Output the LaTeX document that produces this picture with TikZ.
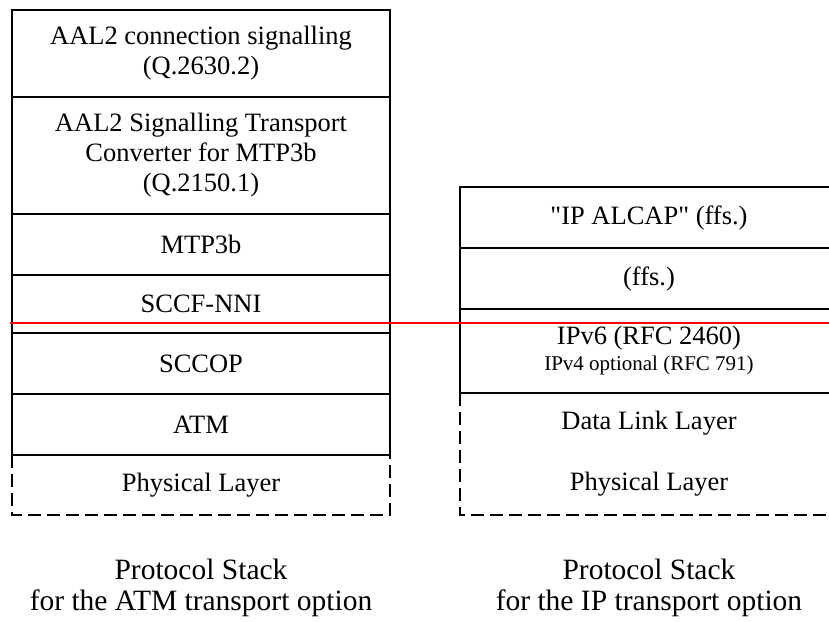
\documentclass[tikz,border=0pt]{standalone}
\usepackage{fontspec}
\setmainfont{Liberation Serif}
\usetikzlibrary{positioning}

\begin{document}
\begin{tikzpicture}[x=1pt,y=-1pt,
  layer/.style={draw,line width=1.8pt,minimum width=378pt,inner sep=0pt,outer sep=0pt,
    align=center,font=\fontsize{26.5}{30}\selectfont},
  open/.style={layer,draw=none},
  dashline/.style={line width=1.8pt,dash pattern=on 13pt off 6pt},
  caption/.style={align=center,font=\fontsize{29.5}{31}\selectfont}]

  \useasboundingbox (0,0) rectangle (829,621);
  \clip (0,0) rectangle (829,621);

  % ATM stack

  \node[layer,minimum height=87pt,anchor=north west] (a_sig) at (12,10) {AAL2 connection signalling\\(Q.2630.2)};
  \node[layer,minimum height=117pt,below=0pt of a_sig] (a_stc) {AAL2 Signalling Transport\\Converter for MTP3b\\(Q.2150.1)};
  \node[layer,minimum height=61pt,below=0pt of a_stc] (a_mtp) {MTP3b};
  \node[layer,minimum height=58pt,below=0pt of a_mtp] (a_sccf) {SCCF-NNI};
  \node[layer,minimum height=61pt,below=0pt of a_sccf] (a_sccop) {SCCOP};
  \node[layer,minimum height=61pt,below=0pt of a_sccop] (a_atm) {ATM};
  \node[open,minimum height=60pt,below=0pt of a_atm] (a_phys) {Physical Layer};

  % IP stack

  \node[layer,minimum height=61pt,anchor=north west] (i_alcap) at (460,187) {\textquotedbl IP ALCAP\textquotedbl{} (ffs.)};
  \node[layer,minimum height=61pt,below=0pt of i_alcap] (i_ffs) {(ffs.)};
  \node[layer,minimum height=84pt,below=0pt of i_ffs] (i_ip) {IPv6 (RFC 2460)\\[-4pt]{\fontsize{21}{24}\selectfont IPv4 optional (RFC 791)}};
  \node[open,minimum height=61pt,below=0pt of i_ip] (i_dll) {Data Link Layer};
  \node[open,minimum height=61pt,below=0pt of i_dll] (i_phys) {Physical Layer};

  % Captions

  \node[caption,below=40pt of a_phys] (a_cap) {Protocol Stack\\for the ATM transport option};
  \node[caption,below=40pt of i_phys] (i_cap) {Protocol Stack\\for the IP transport option};

  % Open layers

  \draw[dashline] (a_phys.north west) -- (a_phys.south west) -- (a_phys.south east) -- (a_phys.north east);
  \draw[dashline] (i_dll.north west) -- (i_phys.south west) -- (i_phys.south east) -- (i_dll.north east);

  % Cut line

  \coordinate (cut_l) at (10,322.5);
  \coordinate (cut_r) at (829,322.5);
  \draw[red,line width=2pt] (cut_l) -- (cut_r);

\end{tikzpicture}
\end{document}
